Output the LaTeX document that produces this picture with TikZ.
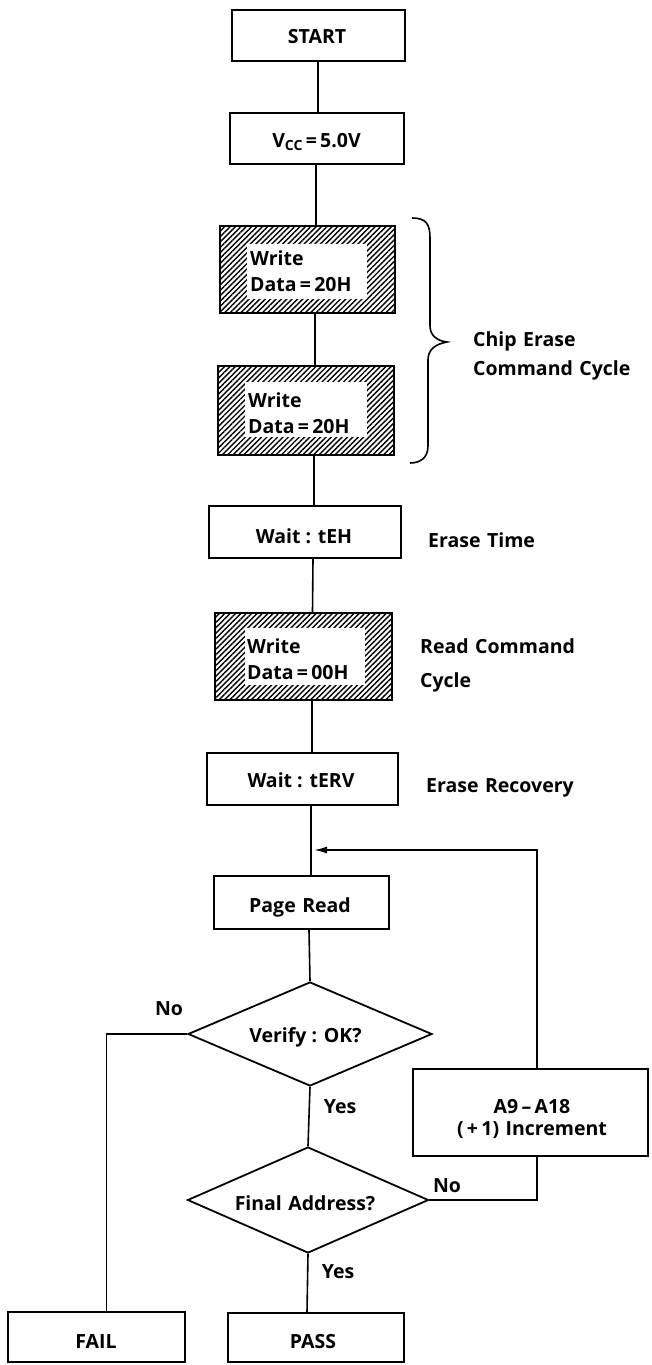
\documentclass[tikz,border=0pt]{standalone}
\usepackage{fontspec}
\setmainfont{Open Sans}
\usetikzlibrary{shapes.geometric, patterns.meta, arrows.meta}
\begin{document}
\begin{tikzpicture}[x=1pt, y=-1pt,
  box/.style={draw, line width=1.8pt, inner sep=0pt},
  hatchbox/.style={draw, line width=1.8pt, inner sep=0pt,
    pattern={Lines[angle=45, distance=3.8pt, line width=1.4pt]}},
  dia/.style={draw, diamond, line width=1.8pt, inner sep=0pt, aspect=2.3},
  txt/.style={font=\fontsize{19.5}{22}\selectfont\bfseries, inner sep=0pt, anchor=base},
  ltxt/.style={font=\fontsize{19.5}{22}\selectfont\bfseries, inner sep=0pt, anchor=base west},
  conn/.style={line width=1.6pt},
]
\useasboundingbox (0,0) rectangle (652,1365);

% boxes
\node[box, minimum width=173pt, minimum height=51pt] (start) at (318.5,35.5) {};
\node[txt] at (317,43) {START};
\node[box, minimum width=174pt, minimum height=51pt] (vcc) at (317,138.5) {};
\node[txt] at (316.5,147) {V\raisebox{-3pt}{\fontsize{14}{14}\selectfont CC}\,=\,5.0V};

\node[hatchbox, minimum width=175pt, minimum height=87pt] (w1) at (307.5,269.5) {};
\fill[white] (247,244) rectangle (367,299);
\node[ltxt] at (250,265) {Write};
\node[ltxt] at (250,291) {Data\,=\,20H};

\node[hatchbox, minimum width=176pt, minimum height=89pt] (w2) at (306,410.5) {};
\fill[white] (245,382) rectangle (367,437);
\node[ltxt] at (248,407) {Write};
\node[ltxt] at (248,433) {Data\,=\,20H};

\node[box, minimum width=192pt, minimum height=52pt] (teh) at (305,532) {};
\node[txt] at (304,543) {Wait : tEH};

\node[hatchbox, minimum width=177pt, minimum height=87pt] (w3) at (303.5,656.5) {};
\fill[white] (245,628) rectangle (365,685);
\node[ltxt] at (247,653) {Write};
\node[ltxt] at (247,679) {Data\,=\,00H};

\node[box, minimum width=191pt, minimum height=52pt] (terv) at (302.5,779) {};
\node[txt] at (301,787) {Wait : tERV};

\node[box, minimum width=175pt, minimum height=53pt] (pread) at (301.5,902.5) {};
\node[txt] at (300,912) {Page\,\,Read};

\node[dia, minimum width=244pt, minimum height=104pt] (verify) at (310,1034) {};
\node[txt] at (305.5,1042) {Verify : OK?};

\node[dia, minimum width=241pt, minimum height=106pt] (final) at (308,1200) {};
\node[txt] at (305,1210) {Final\,\,Address?};

\node[box, minimum width=235pt, minimum height=87pt] (a9) at (530.5,1112.5) {};
\node[txt] at (532,1113) {A9\,--\,A18};
\node[txt] at (532,1135) {(\,+\,1)\,\,Increment};

\node[box, minimum width=177pt, minimum height=50pt] (fail) at (96.5,1337) {};
\node[txt] at (96,1348) {FAIL};
\node[box, minimum width=176pt, minimum height=49pt] (pass) at (316,1337.5) {};
\node[txt] at (313,1348) {PASS};

% side labels
\node[ltxt] at (473,346) {Chip\,\,Erase};
\node[ltxt] at (473,375) {Command\,\,Cycle};
\node[ltxt] at (428,547) {Erase\,\,Time};
\node[ltxt] at (420,653) {Read\,\,Command};
\node[ltxt] at (420,687) {Cycle};
\node[ltxt] at (426,792) {Erase\,\,Recovery};
\node[txt] at (169,1015) {No};
\node[txt] at (340,1113) {Yes};
\node[txt] at (447,1192) {No};
\node[txt] at (338,1278) {Yes};

% brace
\draw[line width=1.6pt] (412,218) .. controls (426,218) and (430,224) .. (430,238)
  -- (430,326) .. controls (430,336) and (438,341) .. (447,342)
  .. controls (436,344) and (428,349) .. (428,360)
  -- (428,446) .. controls (428,458) and (420,463) .. (410,463);

% connectors
\draw[conn] ([xshift=-0.5pt]start.south) -- ([xshift=1pt]vcc.north);
\draw[conn] ([xshift=-1pt]vcc.south) -- ([xshift=8.5pt]w1.north);
\draw[conn] ([xshift=7.5pt]w1.south) -- ([xshift=9pt]w2.north);
\draw[conn] ([xshift=8pt]w2.south) -- ([xshift=9pt]teh.north);
\draw[conn] ([xshift=8pt]teh.south) -- ([xshift=9pt]w3.north);
\draw[conn] ([xshift=8.5pt]w3.south) -- ([xshift=9.5pt]terv.north);
\draw[conn] ([xshift=8.5pt]terv.south) -- ([xshift=9.5pt]pread.north);
\draw[conn] ([xshift=7.5pt]pread.south) -- (verify.north);
\draw[conn] (verify.south) -- (final.north);
\draw[conn] (final.south) -- ([xshift=-9pt]pass.north);
\draw[conn] (verify.west) -| ([xshift=10pt]fail.north);
\draw[conn] (final.east) -| ([xshift=6.5pt]a9.south);
\coordinate (loopin) at (314,850);
\draw[conn, -{Latex[length=13pt, width=7pt]}] ([xshift=6.5pt]a9.north) |- (loopin);
\end{tikzpicture}
\end{document}
